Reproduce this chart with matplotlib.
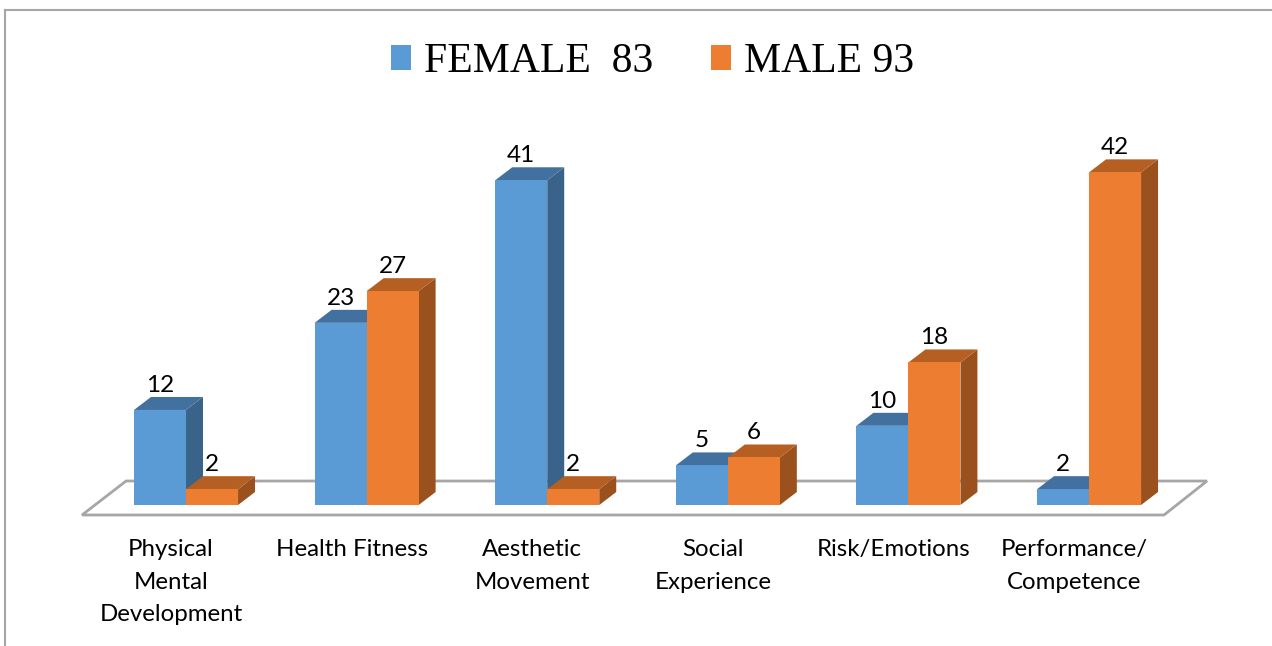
import numpy as np
import matplotlib.pyplot as plt
from matplotlib.patches import Polygon, Patch
from matplotlib.lines import Line2D

# survey counts per motive
categories = ["Physical\nMental\nDevelopment", "Health Fitness", "Aesthetic\nMovement",
              "Social\nExperience", "Risk/Emotions", "Performance/\nCompetence"]
female = [12, 23, 41, 5, 10, 2]
male = [2, 27, 2, 6, 18, 42]
series_names = ["FEMALE  83", "MALE 93"]

# colours: front, top, side
blue = ("#5b9bd5", "#43719f", "#3a6389")
orange = ("#ed7d31", "#b65f23", "#9a511e")

fig = plt.figure(figsize=(12.72, 6.46), dpi=100)
ax = fig.add_axes([0, 0, 1, 1])
ax.set_xlim(-1.03, 6.013)
ax.set_ylim(-17.8, 63.76)
ax.axis("off")

w = 0.288      # bar width (category units)
dx = 0.094     # depth offset in x
dy = 1.64      # depth offset in y (value units)

# floor
floor = Polygon([(-0.576, -1.26), (5.415, -1.26), (5.653, 3.03), (-0.332, 3.03)],
                closed=True, facecolor="white", edgecolor="#a6a6a6", linewidth=2, zorder=1)
ax.add_patch(floor)


def bar3d(x0, v, cols, z):
    front, top, side = cols
    ax.add_patch(Polygon([(x0 + w, 0), (x0 + w + dx, dy), (x0 + w + dx, v + dy), (x0 + w, v)],
                         closed=True, facecolor=side, edgecolor="none", zorder=z))
    ax.add_patch(Polygon([(x0, v), (x0 + w, v), (x0 + w + dx, v + dy), (x0 + dx, v + dy)],
                         closed=True, facecolor=top, edgecolor="none", zorder=z))
    ax.bar(x0, v, width=w, align="edge", color=front, edgecolor="none", zorder=z)
    ax.text(x0 + w / 2, v + dy + 0.65, str(v), ha="center", va="baseline",
            fontsize=17.5, family="Lato", color="black", zorder=10)


x = np.arange(len(categories))
z = 2
for i in x:
    bar3d(i - w, female[i], blue, z)
    bar3d(i, male[i], orange, z + 1)
    z += 2
    ax.text(i - 0.083, -4.3, categories[i], ha="center", va="top", fontsize=17.3,
            family="Lato", linespacing=1.68, color="black")

handles = [Patch(facecolor=blue[0]), Patch(facecolor=orange[0])]
fig.legend(handles, series_names, loc="center", bbox_to_anchor=(0.513, 1 - 62 / 646),
           ncol=2, frameon=False, prop={"family": "Liberation Serif", "size": 30},
           handlelength=0.48, handleheight=0.55, handletextpad=0.3, columnspacing=1.4)

# outer frame (top and left edges visible)
fig.add_artist(Line2D([5 / 1272, 1.0], [1 - 10 / 646, 1 - 10 / 646], transform=fig.transFigure,
                      color="#a6a6a6", linewidth=1.5))
fig.add_artist(Line2D([5 / 1272, 5 / 1272], [0.0, 1 - 10 / 646], transform=fig.transFigure,
                      color="#a6a6a6", linewidth=1.5))

plt.savefig("out.png", dpi=100)
